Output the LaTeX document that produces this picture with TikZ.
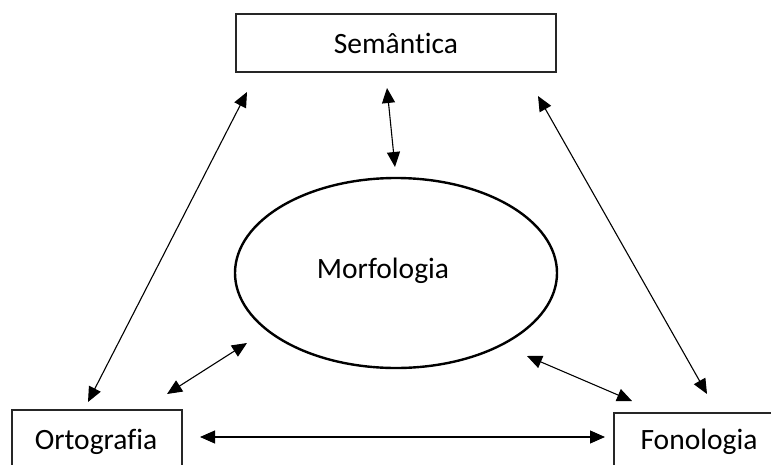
\documentclass[tikz,border=0pt]{standalone}
\usepackage{fontspec}
\setmainfont{Carlito}[Ligatures=NoCommon]
\usetikzlibrary{arrows.meta,shapes.geometric}
\begin{document}
\begin{tikzpicture}[x=1pt,y=-1pt,
  box/.style={draw=black!85,line width=1.3pt,rectangle,inner sep=0pt},
  lbl/.style={font=\fontsize{29.5}{35}\selectfont,inner sep=0pt},
  link/.style={line width=1.1pt,{Triangle[length=15pt,width=13pt]}-{Triangle[length=15pt,width=13pt]}}]
\useasboundingbox (0,0) rectangle (771,464);
\clip (0,0) rectangle (771,464);
% boxes
\node[box,minimum width=320pt,minimum height=58pt] (sem) at (396,43) {};
\node[lbl] (semt) at (396,43) {Semântica};
\node[draw,ellipse,line width=2.4pt,minimum width=322pt,minimum height=190pt,inner sep=0pt] (morf) at (396,273) {};
\node[lbl] (morft) at (383,271) {Morfologia};
\node[box,minimum width=170pt,minimum height=66pt] (orto) at (97,443) {};
\node[lbl] (ortot) at (96,442) {Ortografia};
\node[box,minimum width=172pt,minimum height=66pt] (fono) at (700,446) {};
\node[lbl] (fonot) at (699,442) {Fonologia};
% connector end points
\coordinate (a1) at (387,88);  \coordinate (a2) at (395,167);
\coordinate (b1) at (247,92);  \coordinate (b2) at (88,402);
\coordinate (c1) at (538,96);  \coordinate (c2) at (707,394);
\coordinate (d1) at (167,394); \coordinate (d2) at (247,343);
\coordinate (e1) at (527,356); \coordinate (e2) at (632,401);
\coordinate (f1) at (200,437); \coordinate (f2) at (605,437);
\draw[link] (a1) -- (a2);
\draw[link] (b1) -- (b2);
\draw[link] (c1) -- (c2);
\draw[link] (d1) -- (d2);
\draw[link] (e1) -- (e2);
\draw[link] (f1) -- (f2);
\end{tikzpicture}
\end{document}
